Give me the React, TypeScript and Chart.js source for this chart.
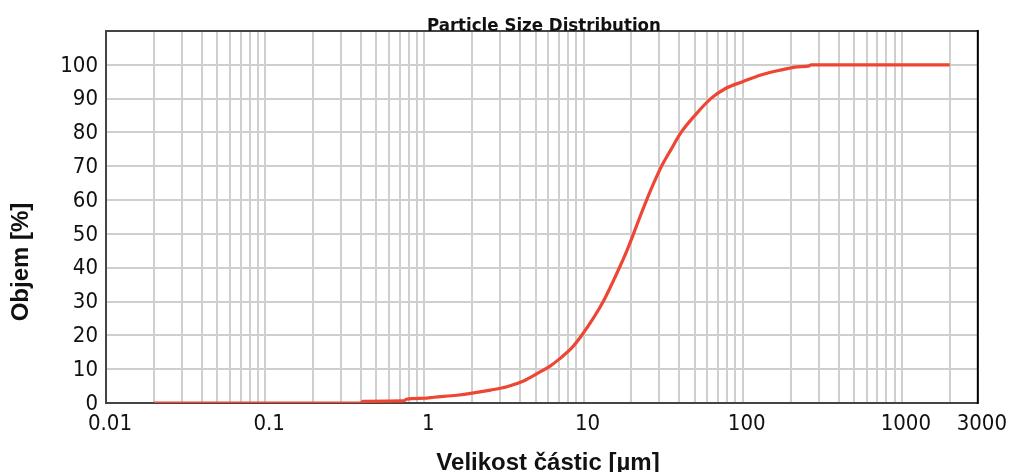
import React, { useEffect, useRef } from "react";
import { Chart, registerables } from "chart.js";

Chart.register(...registerables);

// Particle size [µm] and cumulative volume [%]
const particleSize = [
  0.02, 0.4, 0.41, 0.74, 0.77, 1.0, 1.15, 1.6, 2.0, 2.6, 3.3, 4.2, 5.2, 6.2, 7.0,
  8.4, 9.6, 11.5, 13.3, 15.0, 16.8, 18.7, 20.6, 22.6, 24.9, 27.6, 30.9, 35.5, 41,
  50, 63, 78, 100, 130, 175, 220, 262, 268, 2000,
];
const cumulativeVolume = [
  0, 0, 0.5, 0.6, 1.1, 1.4, 1.7, 2.3, 2.9, 3.8, 4.8, 6.5, 8.9, 11, 12.9,
  16.2, 19.6, 25, 30, 35, 40, 45, 50, 55, 60, 65, 70, 75, 80,
  85, 90, 93, 95, 97, 98.5, 99.4, 99.7, 100, 100,
];

// Labelled size ticks on the logarithmic axis
const sizeTickLabels = ["0.01", "0.1", "1", "10", "100", "1000", "3000"];
// Decades covered by the minor grid (1..9 × 10^k), then the last few lines
const gridDecades = [-2, -1, 0, 1, 2];
const gridExtra = [1000, 2000, 3000];

const TICK_FONT = '"DejaVu Sans Condensed", "DejaVu Sans", sans-serif';
const LABEL_FONT = '"Liberation Sans", Arial, sans-serif';

const CHART_TITLE = "Particle Size Distribution";
const X_TITLE = "Velikost částic [µm]";
const Y_TITLE = "Objem [%]";

const tidy = (v: number) => Number(v.toPrecision(3));

const gridValues: number[] = [];
gridDecades.forEach((k) => {
  for (let m = 1; m <= 9; m++) gridValues.push(tidy(m * Math.pow(10, k)));
});
gridExtra.forEach((v) => gridValues.push(v));

const framePlugin = {
  id: "plotFrame",
  beforeDatasetsDraw(chart: any) {
    const { ctx, chartArea } = chart;
    const { left, right, top, bottom } = chartArea;
    ctx.save();
    ctx.lineWidth = 2;
    ctx.strokeStyle = "#444444";
    ctx.beginPath();
    ctx.moveTo(right, top);
    ctx.lineTo(left, top);
    ctx.lineTo(left, bottom);
    ctx.lineTo(right, bottom);
    ctx.stroke();
    ctx.strokeStyle = "#000000";
    ctx.beginPath();
    ctx.moveTo(right, top - 1);
    ctx.lineTo(right, bottom + 1);
    ctx.stroke();
    ctx.restore();
  },
  afterDraw(chart: any) {
    const { ctx, chartArea } = chart;
    ctx.save();
    ctx.fillStyle = "#111111";
    ctx.textAlign = "center";
    ctx.textBaseline = "alphabetic";

    // chart title, sitting on the top edge of the plot frame
    ctx.font = `bold 18.5px ${TICK_FONT}`;
    ctx.fillText(CHART_TITLE, (chartArea.left + chartArea.right) / 2 + 2, chartArea.top);

    // axis titles
    ctx.font = `bold 24px ${LABEL_FONT}`;
    ctx.fillText(X_TITLE, 548, 470);

    ctx.translate(28, 262);
    ctx.rotate(-Math.PI / 2);
    ctx.fillText(Y_TITLE, 0, 0);
    ctx.restore();
  },
};

export default function App() {
  const canvasRef = useRef<HTMLCanvasElement | null>(null);

  useEffect(() => {
    if (!canvasRef.current) return;
    const chart = new Chart(canvasRef.current, {
      type: "line",
      data: {
        datasets: [
          {
            label: "Objem",
            data: particleSize.map((x, i) => ({ x, y: cumulativeVolume[i] })),
            borderColor: "#ee4634",
            borderWidth: 3.2,
            pointRadius: 0,
            fill: false,
            cubicInterpolationMode: "monotone",
          },
        ],
      },
      options: {
        animation: false,
        responsive: true,
        maintainAspectRatio: false,
        layout: { padding: { top: 31, right: 31, left: 0, bottom: 0 } },
        plugins: {
          legend: { display: false },
          tooltip: { enabled: false },
        },
        scales: {
          x: {
            type: "logarithmic",
            min: 0.01,
            max: 3000,
            afterBuildTicks: (scale: any) => {
              scale.ticks = gridValues.map((v) => ({ value: v }));
            },
            afterFit: (scale: any) => {
              scale.height = 69;
            },
            border: { display: false },
            grid: { color: "#cfcfcf", lineWidth: 2, drawTicks: false },
            ticks: {
              autoSkip: false,
              maxRotation: 0,
              padding: 8,
              labelOffset: 4,
              color: "#111111",
              font: { family: TICK_FONT, size: 22 },
              callback: (value: any) => {
                const s = String(tidy(Number(value)));
                return sizeTickLabels.includes(s) ? s : "";
              },
            },
          },
          y: {
            min: 0,
            max: 110,
            afterFit: (scale: any) => {
              scale.width = 106;
            },
            border: { display: false },
            grid: { color: "#cfcfcf", lineWidth: 2, drawTicks: false },
            ticks: {
              stepSize: 10,
              padding: 8,
              labelOffset: 1,
              color: "#111111",
              font: { family: TICK_FONT, size: 22 },
              callback: (value: any) => (Number(value) <= 100 ? String(value) : ""),
            },
          },
        },
      },
      plugins: [framePlugin],
    });
    return () => chart.destroy();
  }, []);

  return (
    <div style={{ position: "fixed", left: 0, top: 0, width: 1011, height: 472, background: "#ffffff" }}>
      <canvas ref={canvasRef} />
    </div>
  );
}
